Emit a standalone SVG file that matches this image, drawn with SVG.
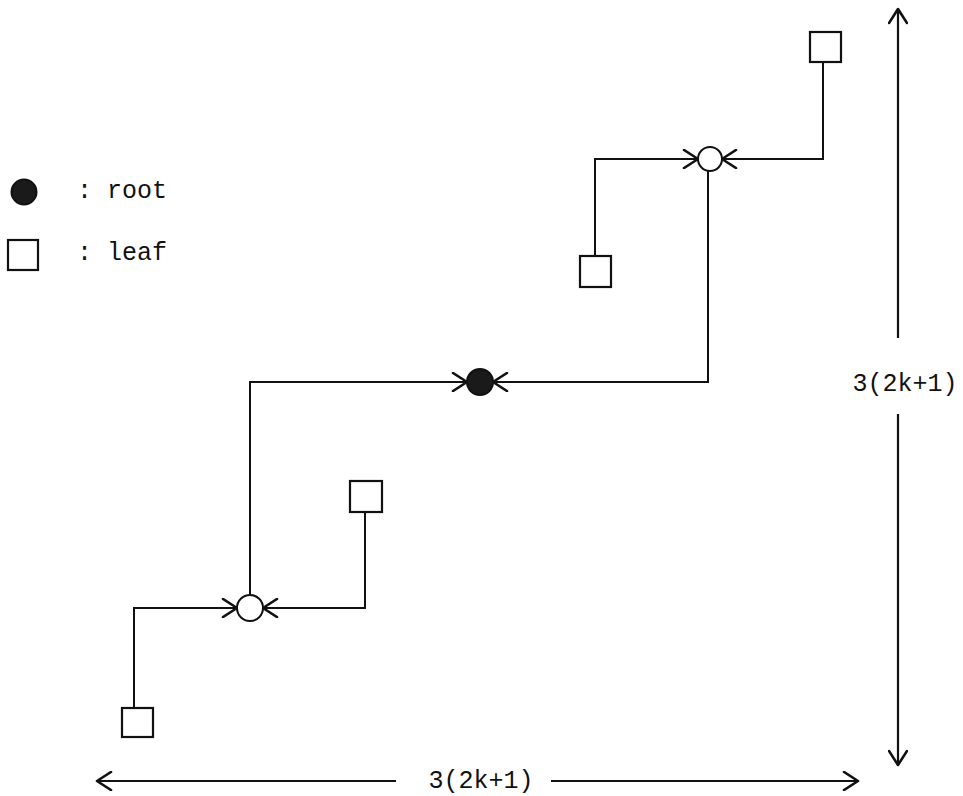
<svg xmlns="http://www.w3.org/2000/svg" width="963" height="796" viewBox="0 0 963 796">
<defs>
<marker id="arr" markerUnits="userSpaceOnUse" markerWidth="20" markerHeight="20" viewBox="-16 -10 18 20" refX="0" refY="0" orient="auto">
<path d="M -14 -9 L 0 0 L -14 9" fill="none" stroke="#111" stroke-width="2.6" stroke-linecap="round" stroke-linejoin="round"/>
</marker>
</defs>
<style>
.ln{fill:none;stroke:#111;stroke-width:2}
.dim{fill:none;stroke:#111;stroke-width:2.2}
.leaf{fill:#fff;stroke:#111;stroke-width:2.2}
.node{fill:#fff;stroke:#111;stroke-width:2}
.root{fill:#1a1a1a;stroke:#111;stroke-width:2}
.t{font-family:"Liberation Mono","Courier New",monospace;font-size:25px;fill:#111}
</style>
<rect width="963" height="796" fill="#fff"/>
<g id="connectors">
<polyline class="ln" points="823,62 823,159 722,159" marker-end="url(#arr)"/>
<polyline class="ln" points="595,256 595,159 698,159" marker-end="url(#arr)"/>
<polyline class="ln" points="708,171 708,382 493,382" marker-end="url(#arr)"/>
<polyline class="ln" points="250,595 250,382 467,382" marker-end="url(#arr)"/>
<polyline class="ln" points="365,512 365,608 263,608" marker-end="url(#arr)"/>
<polyline class="ln" points="134,708 134,608 237,608" marker-end="url(#arr)"/>
</g>
<g id="dimensions">
<line class="dim" x1="898" y1="338" x2="898" y2="9" marker-end="url(#arr)"/>
<line class="dim" x1="898" y1="414" x2="898" y2="765" marker-end="url(#arr)"/>
<text class="t" x="905" y="391" text-anchor="middle">3(2k+1)</text>
<line class="dim" x1="396" y1="781" x2="97" y2="781" marker-end="url(#arr)"/>
<line class="dim" x1="551" y1="781" x2="858" y2="781" marker-end="url(#arr)"/>
<text class="t" x="481" y="788" text-anchor="middle" font-size="24">3(2k+1)</text>
</g>
<g id="leaf-top-right"><rect class="leaf" x="810" y="32" width="31" height="30"/></g>
<g id="leaf-upper"><rect class="leaf" x="580" y="256" width="31" height="31"/></g>
<g id="node-upper"><circle class="node" cx="710" cy="159" r="12"/></g>
<g id="root"><circle class="root" cx="480" cy="382" r="13"/></g>
<g id="node-lower"><circle class="node" cx="250" cy="608" r="13"/></g>
<g id="leaf-lower-right"><rect class="leaf" x="350" y="481" width="32" height="31"/></g>
<g id="leaf-bottom-left"><rect class="leaf" x="122" y="708" width="31" height="29" stroke-width="3"/></g>
<g id="legend">
<circle class="root" cx="24" cy="192" r="12.5"/>
<text class="t" x="77" y="198">: root</text>
<rect class="leaf" x="8" y="240" width="30" height="30" stroke-width="3"/>
<text class="t" x="77" y="260">: leaf</text>
</g>
</svg>
